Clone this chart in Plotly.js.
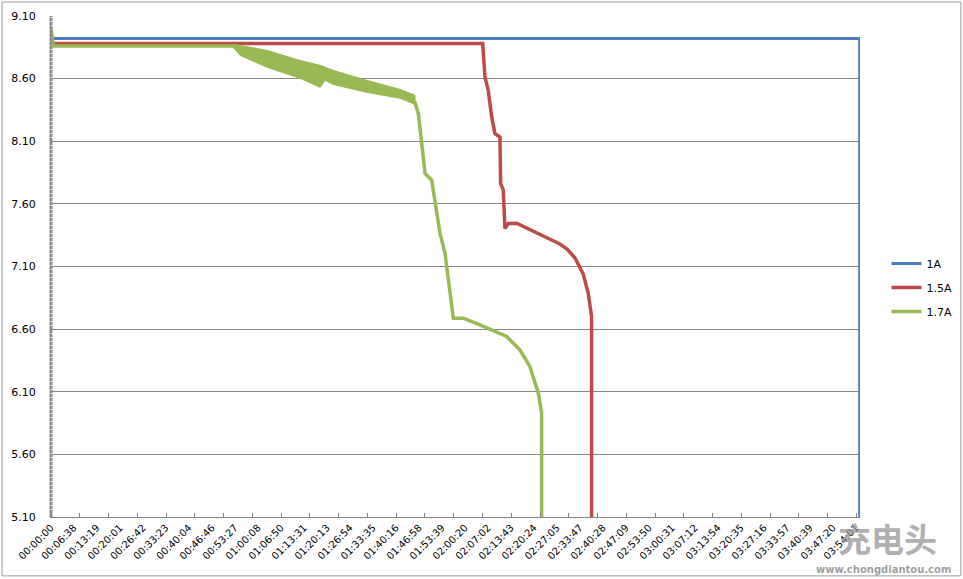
<!DOCTYPE html>
<html>
<head>
<meta charset="utf-8">
<script src="https://cdn.plot.ly/plotly-3.0.1.min.js"></script>
<style>
html,body{margin:0;padding:0;background:#fff;}
#chart{width:963px;height:579px;}
</style>
</head>
<body>
<div id="chart"></div>
<script>
// ---- data (time in seconds, voltage in V) ----
const seriesNames = ['1A', '1.5A', '1.7A'];

const xLabels = ['00:00:00','00:06:38','00:13:19','00:20:01','00:26:42','00:33:23','00:40:04','00:46:46',
  '00:53:27','01:00:08','01:06:50','01:13:31','01:20:13','01:26:54','01:33:35','01:40:16','01:46:58',
  '01:53:39','02:00:20','02:07:02','02:13:43','02:20:24','02:27:05','02:33:47','02:40:28','02:47:09',
  '02:53:50','03:00:31','03:07:12','03:13:54','03:20:35','03:27:16','03:33:57','03:40:39','03:47:20','03:54:01'];
const yTicks = [5.10, 5.60, 6.10, 6.60, 7.10, 7.60, 8.10, 8.60, 9.10];

const t1A = [0, 60, 2000, 4300, 4700, 8000, 10500, 10900, 14105, 14105];
const v1A = [8.93, 8.92, 8.92, 8.92, 8.925, 8.92, 8.92, 8.925, 8.92, 5.0];

const t15A = [0, 60, 7529, 7539, 7569, 7626, 7686, 7743, 7830, 7842, 7888, 7917, 7975, 8121, 8323, 8527,
  8754, 8875, 9000, 9137, 9282, 9368, 9410, 9428, 9428];
const v15A = [8.90, 8.88, 8.88, 8.825, 8.612, 8.506, 8.294, 8.161, 8.134, 7.763, 7.710, 7.404, 7.444, 7.445, 7.40, 7.36,
  7.31, 7.28, 7.24, 7.17, 7.04, 6.89, 6.76, 6.70, 5.0];

const t17A = [0, 40, 3179, 3353, 3771, 4346, 4921, 5513, 6088, 6349, 6407, 6466, 6524, 6640, 6698, 6785,
  6872, 6930, 6989, 7017, 7191, 7482, 7947, 8178, 8352, 8497, 8557, 8557];
const v17A = [9.00, 8.86, 8.86, 8.81, 8.76, 8.67, 8.60, 8.53, 8.47, 8.41, 8.32, 8.055, 7.843, 7.789, 7.604, 7.365,
  7.205, 6.992, 6.807, 6.687, 6.687, 6.634, 6.541, 6.435, 6.302, 6.092, 5.933, 5.0];

// noisy envelope of the 1.7A trace while it sags
const t17Band = [3179, 3301, 3771, 4346, 4694, 4781, 4921, 5513, 6088, 6349];
const v17BandHigh = [8.873, 8.865, 8.825, 8.745, 8.706, 8.69, 8.666, 8.586, 8.514, 8.467];
const v17BandLow = [8.849, 8.785, 8.690, 8.602, 8.530, 8.586, 8.554, 8.490, 8.443, 8.395];

// ---- helpers ----
function toSec(s){ const p = s.split(':').map(Number); return p[0]*3600 + p[1]*60 + p[2]; }
const tickVals = xLabels.map(toSec);

const colBlue = '#4A7EBB', colRed = '#BE4B48', colGreen = '#98B954';
const xRange = [0, 14110];

const traces = [
  {x: t1A, y: v1A, name: seriesNames[0], mode: 'lines', line: {color: colBlue, width: 3}, legendgroup: 'a'},
  {x: t15A, y: v15A, name: seriesNames[1], mode: 'lines', line: {color: colRed, width: 3.5}, legendgroup: 'b'},
  {x: t17Band.concat(t17Band.slice().reverse()),
   y: v17BandHigh.concat(v17BandLow.slice().reverse()),
   mode: 'lines', fill: 'toself', fillcolor: colGreen, line: {color: colGreen, width: 1},
   showlegend: false, hoverinfo: 'skip', legendgroup: 'c'},
  {x: t17A, y: v17A, name: seriesNames[2], mode: 'lines', line: {color: colGreen, width: 3.5}, legendgroup: 'c'}
];

const L = 50.5, R = 102.5, T = 15.5, B = 61.5;
const W = 963, H = 579;
const pw = W - L - R, ph = H - T - B;
const px2x = p => (p - L) / pw;
const py2y = p => 1 - (p - T) / ph;

const layout = {
  width: W, height: H,
  margin: {l: L, r: R, t: T, b: B, pad: 0, autoexpand: false},
  paper_bgcolor: '#fff', plot_bgcolor: '#fff',
  font: {family: 'DejaVu Sans, Verdana, sans-serif', size: 11, color: '#000'},
  showlegend: true,
  legend: {x: px2x(887), xanchor: 'left', y: py2y(249), yanchor: 'top',
           font: {size: 11, family: 'DejaVu Sans, Verdana, sans-serif'},
           tracegroupgap: 5, itemwidth: 30, bgcolor: 'rgba(0,0,0,0)'},
  xaxis: {
    type: 'linear', range: xRange, tickmode: 'array', tickvals: tickVals, ticktext: xLabels,
    tickangle: -45, tickfont: {size: 10}, ticks: '', showgrid: false, zeroline: false, automargin: false,
    showline: true, linecolor: '#868686', linewidth: 1,
    minor: {tickmode: 'linear', tick0: 0, dtick: 501.7, ticks: 'inside', ticklen: 4, tickcolor: '#868686', tickwidth: 1, showgrid: false}
  },
  yaxis: {
    range: [5.10, 9.10], tickmode: 'array', tickvals: yTicks, ticktext: yTicks.map(v => v.toFixed(2)),
    ticks: '', ticklabelstandoff: 12, showgrid: true, gridcolor: '#868686', gridwidth: 1, automargin: false,
    zeroline: false, showline: true, linecolor: '#868686', linewidth: 1
  },
  shapes: [
    {type: 'line', xref: 'paper', yref: 'paper', x0: 0, x1: 0, y0: 0, y1: 1,
     line: {color: '#8a8a8a', width: 3, dash: '3px,1px'}},
    {type: 'rect', xref: 'paper', yref: 'paper', x0: px2x(1.5), x1: px2x(961.5), y0: py2y(576.5), y1: py2y(1.5),
     line: {color: '#9a9a9a', width: 1}, layer: 'below'}
  ],
  annotations: [
    {xref: 'paper', yref: 'paper', x: px2x(888), y: py2y(539), xanchor: 'center', yanchor: 'middle',
     text: '<b>充电头</b>', showarrow: false,
     font: {family: 'Noto Sans CJK SC', size: 33, color: 'rgba(150,150,150,0.75)'}},
    {xref: 'paper', yref: 'paper', x: px2x(884), y: py2y(570), xanchor: 'center', yanchor: 'middle',
     text: '<b>www.chongdiantou.com</b>', showarrow: false,
     font: {family: 'DejaVu Sans', size: 10, color: 'rgba(140,140,140,0.85)'}}
  ]
};

Plotly.newPlot('chart', traces, layout, {displayModeBar: false, staticPlot: true});
</script>
</body>
</html>
